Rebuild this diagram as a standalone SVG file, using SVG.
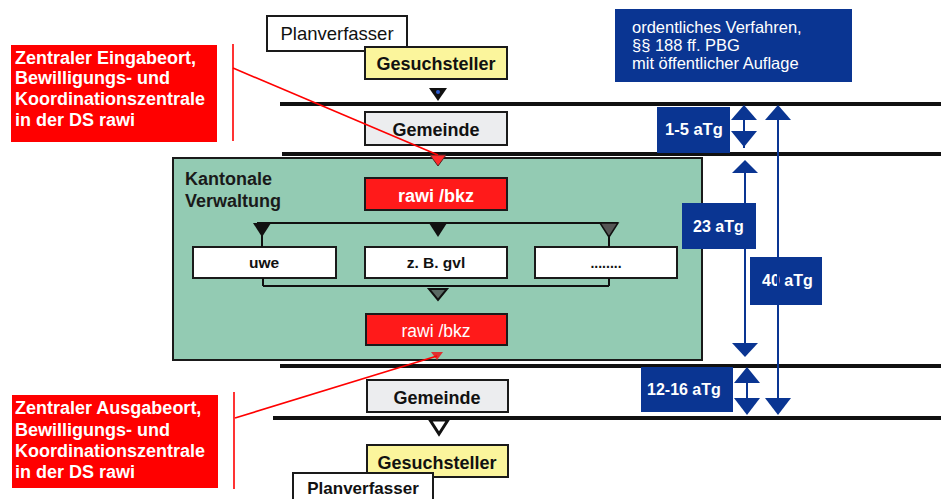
<svg xmlns="http://www.w3.org/2000/svg" width="941" height="499" viewBox="0 0 941 499">
<defs>
<style>
.t{font-family:"Liberation Sans",Arial,sans-serif}
.b{font-weight:bold}
.box{stroke:#1a1a1a;stroke-width:2}
.white{fill:#ffffff}
.yellow{fill:#fbf59c}
.gray{fill:#ecedef}
.red{fill:#ff1a1a}
.blue{fill:#0a3592}
.hl{stroke:#111;stroke-width:4}
.arr{stroke:#0a3592;stroke-width:2;fill:none}
.ah{fill:#0a3592}
.redline{stroke:#ff0000;stroke-width:1.6;fill:none}
.con{stroke:#111;stroke-width:2;fill:none}
</style>
</defs>
<rect width="941" height="499" fill="#ffffff"/>

<!-- horizontal phase lines -->
<g id="phase-lines">
<line class="hl" x1="280" y1="104" x2="941" y2="104"/>
<line class="hl" x1="282" y1="154" x2="941" y2="154"/>
<line class="hl" x1="280" y1="366" x2="941" y2="366"/>
<line class="hl" x1="273" y1="418" x2="941" y2="418"/>
</g>

<g id="kantonale-verwaltung">
<rect x="173" y="158" width="529" height="202" fill="#93cbb3" stroke="#1a1a1a" stroke-width="2"/>
<text class="t b" x="185" y="185" font-size="18" fill="#1a1a1a">Kantonale</text>
<text class="t b" x="185" y="207" font-size="18" fill="#1a1a1a">Verwaltung</text>
</g>

<g id="planverfasser-top">
<rect class="box white" x="267" y="16" width="140" height="35"/>
<text class="t" x="337" y="40" font-size="18.5" text-anchor="middle" fill="#111">Planverfasser</text>
</g>
<g id="gesuchsteller-top">
<rect class="box yellow" x="365" y="47" width="142" height="32"/>
<text class="t b" x="436" y="70" font-size="18" text-anchor="middle" fill="#111">Gesuchsteller</text>
</g>
<g id="gemeinde-top">
<rect class="box gray" x="365" y="112" width="142" height="33"/>
<text class="t b" x="436" y="136" font-size="18" text-anchor="middle" fill="#111">Gemeinde</text>
</g>
<g id="rawi-bkz-top">
<rect class="box red" x="365" y="178" width="142" height="32" stroke="#333"/>
<text class="t b" x="436" y="202" font-size="18" text-anchor="middle" fill="#ffffff">rawi /bkz</text>
</g>
<g id="uwe">
<rect class="box white" x="193" y="247" width="143" height="31"/>
<text class="t b" x="264" y="268" font-size="15.5" text-anchor="middle" fill="#111">uwe</text>
</g>
<g id="gvl">
<rect class="box white" x="365" y="247" width="142" height="31"/>
<text class="t b" x="436" y="268" font-size="15.5" text-anchor="middle" fill="#111">z. B. gvl</text>
</g>
<g id="andere">
<rect class="box white" x="535" y="247" width="142" height="31"/>
<text class="t b" x="606" y="268" font-size="14" text-anchor="middle" fill="#111">........</text>
</g>
<g id="rawi-bkz-bottom">
<rect class="box red" x="366" y="314" width="141" height="31" stroke="#333"/>
<text class="t" x="436" y="337" font-size="17.5" text-anchor="middle" fill="#ffffff">rawi /bkz</text>
</g>
<g id="gemeinde-bottom">
<rect class="box gray" x="367" y="380" width="141" height="32"/>
<text class="t b" x="437" y="404" font-size="18" text-anchor="middle" fill="#111">Gemeinde</text>
</g>
<g id="gesuchsteller-bottom">
<rect class="box yellow" x="367" y="445" width="141" height="32"/>
<text class="t b" x="437" y="469" font-size="18" text-anchor="middle" fill="#111">Gesuchsteller</text>
</g>
<g id="planverfasser-bottom">
<rect class="box white" x="293" y="473" width="140" height="35"/>
<text class="t b" x="363" y="494" font-size="17" text-anchor="middle" fill="#111">Planverfasser</text>
</g>

<g id="connectors">
<polygon points="429,88 447,88 438,101" fill="#111"/>
<circle cx="438" cy="92" r="2" fill="#2a5ad0"/>
<polygon points="430,155 446,155 438,166" fill="#ff2a2a" stroke="#552222" stroke-width="1"/>
<line class="con" x1="257" y1="223" x2="618" y2="223"/>
<polygon points="253,223 271,223 262,237" fill="#111"/>
<line class="con" x1="262" y1="235" x2="262" y2="247"/>
<polygon points="429,223 447,223 438,237" fill="#111"/>
<polygon points="600,223 618,223 609,237" fill="#555" stroke="#111" stroke-width="1.5"/>
<line class="con" x1="609" y1="235" x2="609" y2="247"/>
<line class="con" x1="263" y1="278" x2="263" y2="286"/>
<line class="con" x1="609" y1="278" x2="609" y2="286"/>
<line class="con" x1="263" y1="286" x2="609" y2="286"/>
<polygon points="429,289 447,289 438,300" fill="#5a6a64" stroke="#111" stroke-width="2"/>
<polygon points="431,352 443,352 437,360" fill="#e03030"/>
<polygon points="430,420 448,420 439,434" fill="#ffffff" stroke="#111" stroke-width="3"/>
<line class="redline" x1="233" y1="68" x2="438" y2="155"/>
<line class="redline" x1="233" y1="44" x2="233" y2="141"/>
<line class="redline" x1="235" y1="418" x2="437" y2="356"/>
<line class="redline" x1="234" y1="392" x2="234" y2="489" stroke="#cc0000"/>
</g>

<g id="label-eingabe">
<rect x="11" y="45" width="206" height="97" fill="#ff0000"/>
<text class="t b" font-size="18" fill="#ffffff"><tspan x="15" y="64">Zentraler Eingabeort,</tspan><tspan x="15" y="84">Bewilligungs- und</tspan><tspan x="15" y="105">Koordinationszentrale</tspan><tspan x="15" y="126">in der DS rawi</tspan></text>
</g>
<g id="label-ausgabe">
<rect x="12" y="395" width="206" height="93" fill="#ff0000"/>
<text class="t b" font-size="18" fill="#ffffff"><tspan x="15" y="414">Zentraler Ausgabeort,</tspan><tspan x="15" y="436">Bewilligungs- und</tspan><tspan x="15" y="457">Koordinationszentrale</tspan><tspan x="15" y="478">in der DS rawi</tspan></text>
</g>

<g id="verfahren">
<rect class="blue" x="615" y="9" width="237" height="73"/>
<text class="t" font-size="16.5" fill="#ffffff"><tspan x="632" y="33">ordentliches Verfahren,</tspan><tspan x="632" y="51">§§ 188 ff. PBG</tspan><tspan x="632" y="69">mit öffentlicher Auflage</tspan></text>
</g>

<g id="dauer-1-5">
<rect class="blue" x="657" y="107" width="73" height="46"/>
<text class="t b" x="665" y="135" font-size="16.5" fill="#ffffff">1-5 aTg</text>
</g>
<g id="dauer-23">
<rect class="blue" x="682" y="203" width="74" height="46"/>
<text class="t b" x="693" y="232" font-size="16" fill="#ffffff">23 aTg</text>
</g>
<g id="dauer-40">
<rect class="blue" x="750" y="257" width="72" height="48"/>
<text class="t b" x="762" y="286" font-size="16" fill="#ffffff">40 aTg</text>
</g>
<g id="dauer-12-16">
<rect class="blue" x="641" y="367" width="92" height="45"/>
<text class="t b" x="647" y="395" font-size="16" fill="#ffffff">12-16 aTg</text>
</g>

<g id="duration-arrows">
<line class="arr" x1="744" y1="110" x2="744" y2="148"/>
<polygon class="ah" points="744,105 731,120 757,120"/>
<polygon class="ah" points="744,147 731,131 757,131"/>
<line class="arr" x1="745" y1="165" x2="745" y2="352"/>
<polygon class="ah" points="745,160 732,173 758,173"/>
<polygon class="ah" points="745,357 732,343 758,343"/>
<line class="arr" x1="778" y1="110" x2="778" y2="412"/>
<polygon class="ah" points="778,105 765,120 791,120"/>
<polygon class="ah" points="778,415 765,398 791,398"/>
<line class="arr" x1="747" y1="372" x2="747" y2="410"/>
<polygon class="ah" points="747,367 734,383 760,383"/>
<polygon class="ah" points="747,415 734,398 760,398"/>
</g>
</svg>
